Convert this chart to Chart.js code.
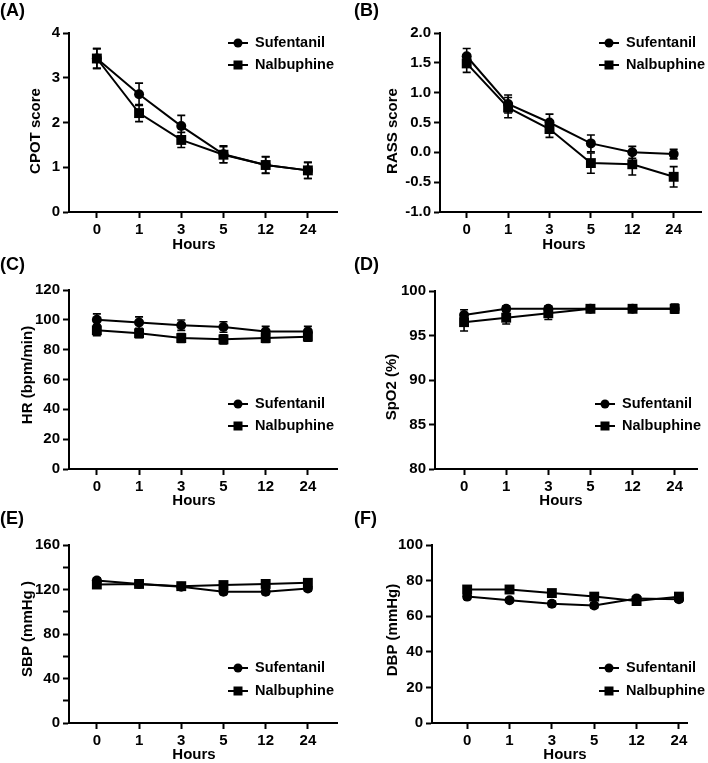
<!DOCTYPE html>
<html>
<head>
<meta charset="utf-8">
<script src="https://cdn.jsdelivr.net/npm/chart.js"></script>
<title>Sufentanil vs Nalbuphine</title>
<style>
  body { margin: 0; background: #fff; }
  .panel { position: absolute; width: 354px; height: 254px; }
  .panel canvas { position: absolute; left: 0; top: 0; }
  .tag { position: absolute; left: 0; top: 1px; font: bold 18px "Liberation Sans", Arial, sans-serif; line-height: 18px; color: #000; }
</style>
</head>
<body>

<div class="panel" style="left:0;top:0"><canvas id="cA" width="354" height="254"></canvas><div class="tag">(A)</div></div>
<div class="panel" style="left:354px;top:0"><canvas id="cB" width="354" height="254"></canvas><div class="tag">(B)</div></div>
<div class="panel" style="left:0;top:254px"><canvas id="cC" width="354" height="254"></canvas><div class="tag">(C)</div></div>
<div class="panel" style="left:354px;top:254px"><canvas id="cD" width="354" height="254"></canvas><div class="tag">(D)</div></div>
<div class="panel" style="left:0;top:508px"><canvas id="cE" width="354" height="254"></canvas><div class="tag">(E)</div></div>
<div class="panel" style="left:354px;top:508px"><canvas id="cF" width="354" height="254"></canvas><div class="tag">(F)</div></div>

<script>
var hours = ['0', '1', '3', '5', '12', '24'];
var groups = ['Sufentanil', 'Nalbuphine'];

// (A) CPOT score
var cpotSuf = [3.43, 2.63, 1.92, 1.29, 1.05, 0.93];
var cpotSufErr = [0.22, 0.25, 0.24, 0.19, 0.19, 0.18];
var cpotNal = [3.43, 2.21, 1.61, 1.28, 1.05, 0.93];
var cpotNalErr = [0.22, 0.19, 0.17, 0.18, 0.18, 0.18];

// (B) RASS score
var rassSuf = [1.61, 0.81, 0.50, 0.15, 0.00, -0.03];
var rassSufErr = [0.13, 0.15, 0.14, 0.14, 0.10, 0.08];
var rassNal = [1.49, 0.75, 0.39, -0.18, -0.20, -0.41];
var rassNalErr = [0.15, 0.17, 0.14, 0.17, 0.18, 0.17];

// (C) HR
var hrSuf = [100, 98.2, 96.4, 95.2, 92.1, 92.1];
var hrSufErr = [4, 3.8, 3.5, 3.5, 3.5, 3.5];
var hrNal = [93, 91, 87.8, 86.9, 87.8, 88.7];
var hrNalErr = [3.6, 3, 3, 3, 3, 3];

// (D) SpO2
var spoSuf = [97.3, 98.0, 98.0, 98.0, 98.0, 98.0];
var spoSufErr = [0.6, 0.3, 0.3, 0.2, 0.2, 0.5];
var spoNal = [96.5, 97.0, 97.5, 98.0, 98.0, 98.0];
var spoNalErr = [1.0, 0.7, 0.7, 0.2, 0.2, 0.5];

// (E) SBP
var sbpSuf = [128, 125, 122.5, 118, 118, 121];
var sbpSufErr = [2.5, 2, 2, 2.5, 2.5, 2.5];
var sbpNal = [124.5, 125, 123, 124, 125, 126];
var sbpNalErr = [2.5, 2, 2.5, 2.5, 2.5, 2.5];

// (F) DBP
var dbpSuf = [71, 69, 67, 66, 70, 69.5];
var dbpSufErr = [1.5, 1.2, 1.5, 1.5, 1.5, 1.5];
var dbpNal = [75, 75, 73, 71, 68.5, 71];
var dbpNalErr = [1.5, 1.2, 1.5, 1.5, 1.5, 1.5];

var FONT = '"Liberation Sans", Arial, sans-serif';
Chart.defaults.font.family = FONT;
Chart.defaults.color = '#000';

// error bars, drawn under the markers
var errorBars = {
  id: 'errorBars',
  beforeDatasetsDraw: function (chart) {
    var c = chart.ctx, ys = chart.scales.y;
    c.save();
    c.strokeStyle = '#000';
    c.lineWidth = 1.6;
    chart.data.datasets.forEach(function (ds, i) {
      var meta = chart.getDatasetMeta(i);
      meta.data.forEach(function (pt, j) {
        var v = ds.data[j].y, e = ds.errs[j];
        var top = ys.getPixelForValue(v + e), bot = ys.getPixelForValue(v - e);
        c.beginPath();
        c.moveTo(pt.x, top); c.lineTo(pt.x, bot);
        c.moveTo(pt.x - 4, top); c.lineTo(pt.x + 4, top);
        c.moveTo(pt.x - 4, bot); c.lineTo(pt.x + 4, bot);
        c.stroke();
      });
    });
    c.restore();
  }
};

// line + marker legend inside the plot
var panelLegend = {
  id: 'panelLegend',
  afterDraw: function (chart, args, o) {
    var c = chart.ctx;
    c.save();
    chart.data.datasets.forEach(function (ds, i) {
      var y = o.rows[i];
      c.strokeStyle = '#000';
      c.fillStyle = '#000';
      c.lineWidth = 2;
      c.beginPath(); c.moveTo(o.x, y); c.lineTo(o.x + 20, y); c.stroke();
      if (ds.pointStyle == 'rect') {
        c.fillRect(o.x + 5.5, y - 4.5, 9, 9);
      } else {
        c.beginPath(); c.arc(o.x + 10, y, 4.5, 0, Math.PI * 2); c.fill();
      }
      c.font = 'bold 14.5px ' + FONT;
      c.textBaseline = 'middle';
      c.textAlign = 'left';
      c.fillText(ds.label, o.x + 27, y);
    });
    c.restore();
  }
};

// axis titles (placed like the original, a bit off the plot centre)
var axisTitles = {
  id: 'axisTitles',
  afterDraw: function (chart, args, o) {
    var c = chart.ctx;
    c.save();
    c.fillStyle = '#000';
    c.font = 'bold 15px ' + FONT;
    c.textAlign = 'center';
    c.textBaseline = 'middle';
    c.fillText(o.x.text, o.x.cx, o.x.cy);
    c.translate(o.y.cx, o.y.cy);
    c.rotate(-Math.PI / 2);
    c.fillText(o.y.text, 0, 0);
    c.restore();
  }
};

function axisStyle() {
  return {
    grid: { drawOnChartArea: false, drawTicks: true, tickLength: 6, tickWidth: 2, tickColor: '#000' },
    border: { display: true, color: '#000', width: 2 }
  };
}

function makePanel(id, p) {
  var xs = axisStyle(), ysAx = axisStyle();
  return new Chart(document.getElementById(id), {
    type: 'line',
    data: {
      datasets: [
        { label: groups[0], data: p.suf.map(function (v, i) { return { x: i, y: v }; }), errs: p.sufErr,
          pointStyle: 'circle', pointRadius: 5 },
        { label: groups[1], data: p.nal.map(function (v, i) { return { x: i, y: v }; }), errs: p.nalErr,
          pointStyle: 'rect', pointRadius: 7 }
      ]
    },
    options: {
      responsive: false,
      animation: false,
      layout: { padding: { top: p.box.top, right: 354 - p.box.right, left: 0, bottom: 0 } },
      elements: {
        line: { borderColor: '#000', borderWidth: 2, tension: 0, fill: false },
        point: { backgroundColor: '#000', borderColor: '#000', borderWidth: 0 }
      },
      scales: {
        x: {
          type: 'linear', min: p.xMin, max: p.xMax,
          afterBuildTicks: function (s) { s.ticks = hours.map(function (h, i) { return { value: i }; }); },
          afterFit: function (s) { s.height = 254 - p.box.bottom; },
          ticks: { callback: function (v) { return hours[v]; }, autoSkip: false, maxRotation: 0, padding: 3,
                   font: { size: 15, weight: 'bold' }, color: '#000' },
          grid: xs.grid, border: xs.border
        },
        y: {
          min: p.yMin, max: p.yMax,
          afterFit: function (s) { s.width = p.box.left; },
          ticks: { stepSize: p.yStep, padding: 3, font: { size: 15, weight: 'bold' }, color: '#000',
                   callback: function (v) {
                     if (p.yLabelEvery && Math.round(v) % p.yLabelEvery != 0) return '';
                     return p.yDec ? v.toFixed(p.yDec) : v;
                   } },
          grid: ysAx.grid, border: ysAx.border
        }
      },
      plugins: {
        legend: { display: false },
        tooltip: { enabled: false },
        panelLegend: p.legend,
        axisTitles: p.titles
      }
    },
    plugins: [errorBars, panelLegend, axisTitles]
  });
}

makePanel('cA', {
  suf: cpotSuf, sufErr: cpotSufErr, nal: cpotNal, nalErr: cpotNalErr,
  yMin: 0, yMax: 4, yStep: 1, xMin: -0.66, xMax: 5.69,
  box: { left: 69, right: 337, top: 33, bottom: 212 },
  legend: { x: 228, rows: [43, 65] },
  titles: { x: { text: 'Hours', cx: 194, cy: 245 }, y: { text: 'CPOT score', cx: 36, cy: 131 } }
});
makePanel('cB', {
  suf: rassSuf, sufErr: rassSufErr, nal: rassNal, nalErr: rassNalErr,
  yMin: -1, yMax: 2, yStep: 0.5, yDec: 1, xMin: -0.645, xMax: 5.66,
  box: { left: 86, right: 353, top: 33, bottom: 212 },
  legend: { x: 245, rows: [43, 65] },
  titles: { x: { text: 'Hours', cx: 210, cy: 245 }, y: { text: 'RASS score', cx: 39, cy: 131 } }
});
makePanel('cC', {
  suf: hrSuf, sufErr: hrSufErr, nal: hrNal, nalErr: hrNalErr,
  yMin: 0, yMax: 120, yStep: 20, xMin: -0.66, xMax: 5.69,
  box: { left: 69, right: 337, top: 36, bottom: 215 },
  legend: { x: 228, rows: [150, 172] },
  titles: { x: { text: 'Hours', cx: 194, cy: 247 }, y: { text: 'HR (bpm/min)', cx: 28, cy: 121 } }
});
makePanel('cD', {
  suf: spoSuf, sufErr: spoSufErr, nal: spoNal, nalErr: spoNalErr,
  yMin: 80, yMax: 100, yStep: 5, xMin: -0.69, xMax: 5.53,
  box: { left: 81, right: 343, top: 37, bottom: 215 },
  legend: { x: 241, rows: [150, 172] },
  titles: { x: { text: 'Hours', cx: 207, cy: 247 }, y: { text: 'SpO2 (%)', cx: 38, cy: 133 } }
});
makePanel('cE', {
  suf: sbpSuf, sufErr: sbpSufErr, nal: sbpNal, nalErr: sbpNalErr,
  yMin: 0, yMax: 160, yStep: 20, yLabelEvery: 40, xMin: -0.66, xMax: 5.69,
  box: { left: 69, right: 337, top: 37, bottom: 215 },
  legend: { x: 228, rows: [160, 183] },
  titles: { x: { text: 'Hours', cx: 194, cy: 247 }, y: { text: 'SBP (mmHg )', cx: 28, cy: 121 } }
});
makePanel('cF', {
  suf: dbpSuf, sufErr: dbpSufErr, nal: dbpNal, nalErr: dbpNalErr,
  yMin: 0, yMax: 100, yStep: 20, xMin: -0.83, xMax: 5.19,
  box: { left: 78, right: 333, top: 37, bottom: 215 },
  legend: { x: 245, rows: [160, 183] },
  titles: { x: { text: 'Hours', cx: 211, cy: 247 }, y: { text: 'DBP (mmHg)', cx: 39, cy: 122 } }
});
</script>
</body>
</html>
